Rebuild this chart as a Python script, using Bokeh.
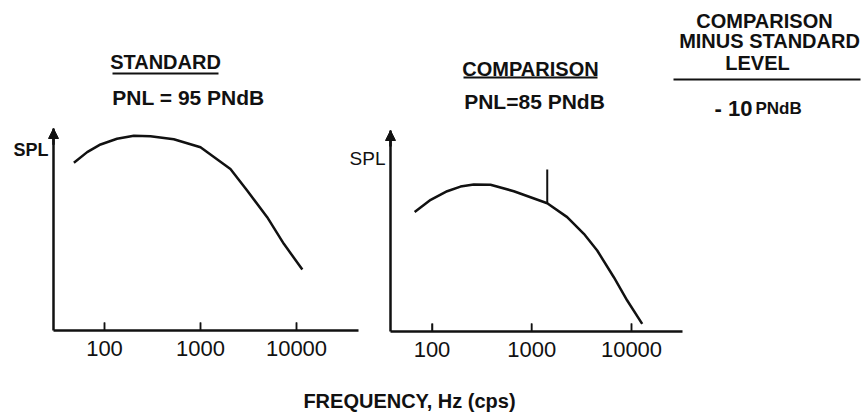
from bokeh.plotting import figure
from bokeh.models import (Range1d, FixedTicker, PrintfTickFormatter, Label, Arrow, NormalHead,
                          LogAxis, LinearAxis, LogScale, LinearScale)
from bokeh.embed import file_html
from bokeh.resources import INLINE

# ---- data ----
tick_freqs = [100, 1000, 10000]

std_freq = [48, 66, 91, 135, 202, 301, 527, 1000, 2050, 3060, 4950, 7380, 11500]
std_spl = [83.0, 88.3, 92.1, 94.9, 96.4, 96.2, 94.7, 90.7, 80.0, 69.3, 56.1, 42.9, 30.2]

cmp_freq = [67, 97, 142, 193, 262, 386, 661, 1430, 2265, 3330, 4530, 6650, 9060, 12800]
cmp_spl = [59.4, 65.5, 69.8, 72.1, 73.1, 73.0, 69.8, 63.8, 56.9, 48.6, 40.3, 27.0, 15.4, 3.8]

tone_freq = [1430]
tone_lo = [63.8]
tone_hi = [80.6]

INK = "#111111"
FONT = "Liberation Sans"
W, H = 868, 415


# layout helpers: page pixels -> each panel's data coordinates
def fx1(px):
    return 10 ** (2 + (px - 104) / 96.0)


def fy1(py):
    return (330 - py) / 202.0 * 100


def fx2(px):
    return 10 ** (2 + (px - 431.5) / 99.75)


def fy2(py):
    return (331 - py) / 201.0 * 100


p = figure(width=W, height=H, x_axis_type="log",
           x_range=Range1d(fx1(0), fx1(W)), y_range=Range1d(fy1(H), fy1(0)),
           x_axis_location=None, y_axis_location=None, min_border=0,
           toolbar_location=None, output_backend="svg")
p.grid.visible = False
p.outline_line_color = None
p.background_fill_color = "white"
p.border_fill_color = "white"

p.extra_x_ranges = {"p2": Range1d(fx2(0), fx2(W)), "px": Range1d(0, W)}
p.extra_y_ranges = {"p2": Range1d(fy2(H), fy2(0)), "px": Range1d(H, 0)}
p.extra_x_scales = {"p2": LogScale(), "px": LinearScale()}
p.extra_y_scales = {"p2": LinearScale(), "px": LinearScale()}


def style_x(ax):
    ax.ticker = FixedTicker(ticks=tick_freqs, minor_ticks=[])
    ax.formatter = PrintfTickFormatter(format="%d")
    ax.axis_line_width = 2.5
    ax.axis_line_color = INK
    ax.major_tick_in = 8
    ax.major_tick_out = 0
    ax.major_tick_line_width = 1.5
    ax.major_tick_line_color = INK
    ax.minor_tick_line_color = None
    ax.major_label_text_font = FONT
    ax.major_label_text_font_size = "22px"
    ax.major_label_text_color = INK
    ax.major_label_standoff = 10


def style_y(ay):
    ay.ticker = FixedTicker(ticks=[])
    ay.axis_line_width = 2.5
    ay.axis_line_color = INK
    ay.major_tick_line_color = None
    ay.minor_tick_line_color = None
    ay.major_label_text_font_size = "0px"


# panel 1 axes
ax1 = LogAxis(fixed_location=0, bounds=(fx1(53), fx1(358)))
style_x(ax1)
p.add_layout(ax1, "below")
ay1 = LinearAxis(fixed_location=fx1(53), bounds=(0, 100))
style_y(ay1)
p.add_layout(ay1, "left")

# panel 2 axes
ax2 = LogAxis(x_range_name="p2", y_range_name="p2", fixed_location=0,
              bounds=(fx2(390), fx2(682)))
style_x(ax2)
p.add_layout(ax2, "below")
ay2 = LinearAxis(x_range_name="p2", y_range_name="p2", fixed_location=fx2(390), bounds=(0, 100))
style_y(ay2)
p.add_layout(ay2, "left")

# small inward tick marks at the decade ticks
tick_base = [0] * len(tick_freqs)
tick_top = [4] * len(tick_freqs)
p.segment(x0=tick_freqs, y0=tick_base, x1=tick_freqs, y1=tick_top, line_width=1.5, line_color=INK)
p.segment(x0=tick_freqs, y0=tick_base, x1=tick_freqs, y1=tick_top, line_width=1.5, line_color=INK,
          x_range_name="p2", y_range_name="p2")

# curves
p.line(std_freq, std_spl, line_width=2.5, line_color=INK)
p.line(cmp_freq, cmp_spl, line_width=2.5, line_color=INK, x_range_name="p2", y_range_name="p2")
p.segment(x0=tone_freq, y0=tone_lo, x1=tone_freq, y1=tone_hi, line_width=2, line_color=INK,
          x_range_name="p2", y_range_name="p2")

# axis arrowheads
p.add_layout(Arrow(x_start=fx1(53), y_start=92, x_end=fx1(53), y_end=100,
                   end=NormalHead(size=10, fill_color=INK, line_color=INK),
                   line_width=2.5, line_color=INK))
p.add_layout(Arrow(x_start=fx2(390), y_start=92, x_end=fx2(390), y_end=100,
                   end=NormalHead(size=10, fill_color=INK, line_color=INK),
                   line_width=2.5, line_color=INK, x_range_name="p2", y_range_name="p2"))


def txt(x, y, s, size, bold=True, align="center", baseline="middle"):
    p.add_layout(Label(x=x, y=y, text=s, text_font=FONT, text_font_size=size,
                       text_font_style="bold" if bold else "normal",
                       text_color=INK, text_align=align, text_baseline=baseline,
                       x_range_name="px", y_range_name="px"))


def hline(x0, x1, y):
    p.add_layout(Arrow(x_start=x0, y_start=y, x_end=x1, y_end=y, end=None,
                       line_width=2, line_color=INK, x_range_name="px", y_range_name="px"))


# texts (page pixel positions)
txt(165, 61, "STANDARD", "20px")
hline(112, 218, 73)
txt(188, 97, "PNL = 95 PNdB", "21px")
txt(48, 149, "SPL", "18px", align="right")

txt(530, 68, "COMPARISON", "20px")
hline(463, 597, 77)
txt(534, 101, "PNL=85 PNdB", "21px")
txt(385, 158, "SPL", "19px", bold=False, align="right")

txt(764, 20, "COMPARISON", "20px")
txt(769, 40, "MINUS STANDARD", "20px")
txt(757, 62, "LEVEL", "20px")
hline(673, 860, 79)
txt(752, 108, "- 10", "22px", align="right", baseline="alphabetic")
txt(755, 108, "PNdB", "17px", align="left", baseline="alphabetic")

txt(409, 400, "FREQUENCY, Hz (cps)", "20px")

open("out.html", "w").write(file_html(p, INLINE))
